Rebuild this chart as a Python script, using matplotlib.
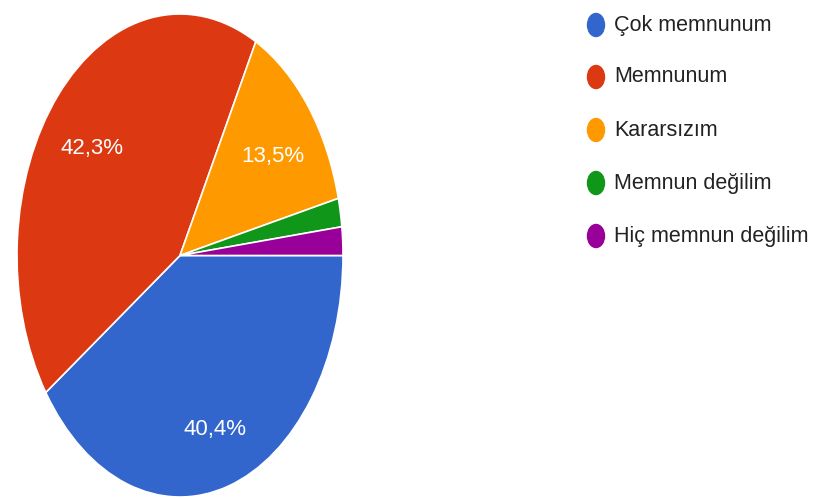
import matplotlib.pyplot as plt
from matplotlib.patches import Ellipse

labels = ["Çok memnunum", "Memnunum", "Kararsızım", "Memnun değilim", "Hiç memnun değilim"]
values = [40.4, 42.3, 13.5, 1.9, 1.9]
colors = ["#3366CC", "#DC3912", "#FF9900", "#109618", "#990099"]

font = "Liberation Sans"

fig = plt.figure(figsize=(8.18, 4.98), dpi=100)
W, H = 818, 498

ax = fig.add_axes([17 / W, 1 - 497 / H, 326 / W, 483 / H])


def fmt(p):
    if p < 5:
        return ""
    return f"{p:.1f}%".replace(".", ",")


wedges, texts, autotexts = ax.pie(values, colors=colors, startangle=0, counterclock=False,
                                  autopct=fmt, pctdistance=0.72,
                                  wedgeprops=dict(edgecolor="white", linewidth=1.2),
                                  textprops=dict(color="white", fontsize=16, family=font))
# google-style labels sit a little lower
for t in autotexts:
    x, y = t.get_position()
    t.set_position((x, y - 0.035))
ax.set_aspect("auto")
ax.set_xlim(-1.0, 1.0)
ax.set_ylim(-1.0, 1.0)
ax.axis("off")

# legend
rows = [25, 77, 130, 183, 236]
for lab, col, y in zip(labels, colors, rows):
    fig.patches.append(Ellipse((596 / W, 1 - y / H), 17 / W, 23 / H, color=col,
                               transform=fig.transFigure))
    fig.text(614 / W, 1 - y / H, lab, fontsize=15.5, family=font, color="#222222",
             va="center", ha="left")

fig.savefig("out.png", dpi=100)
